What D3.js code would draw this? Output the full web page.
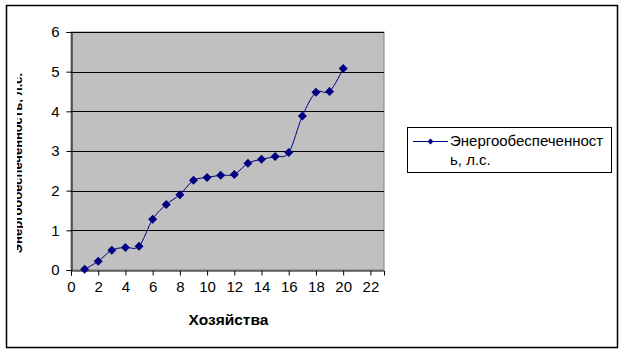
<!DOCTYPE html>
<html>
<head>
<meta charset="utf-8">
<script src="https://cdn.jsdelivr.net/npm/d3@7"></script>
<style>
  body { margin: 0; background: #fff; }
  text { font-family: "Liberation Sans", Arial, sans-serif; }
</style>
</head>
<body>
<div id="chart"></div>
<script>
// data
var farms = [1, 2, 3, 4, 5, 6, 7, 8, 9, 10, 11, 12, 13, 14, 15, 16, 17, 18, 19, 20];
var power = [0.02, 0.22, 0.5, 0.57, 0.6, 1.28, 1.65, 1.9, 2.26, 2.33, 2.39, 2.41, 2.69, 2.79, 2.86, 2.96, 3.88, 4.48, 4.5, 5.08];
var xTicks = [0, 2, 4, 6, 8, 10, 12, 14, 16, 18, 20, 22];
var yTicks = [0, 1, 2, 3, 4, 5, 6];
var seriesName = ["Энергообеспеченност", "ь, л.с."];
var xTitle = "Хозяйства";
var yTitle = "Энергообеспеченность, л.с.";

var width = 626, height = 355;
var plot = { left: 71, right: 384, top: 32, bottom: 270 };

var svg = d3.select("#chart").append("svg")
  .attr("width", width)
  .attr("height", height);

// outer frame
svg.append("rect")
  .attr("x", 6.5).attr("y", 5.5)
  .attr("width", 611).attr("height", 342)
  .attr("fill", "none")
  .attr("stroke", "#000")
  .attr("stroke-width", 1.5);

var x = d3.scaleLinear().domain([0, 23]).range([plot.left, plot.right]);
var y = d3.scaleLinear().domain([0, 6]).range([plot.bottom, plot.top]);

// plot area
svg.append("rect")
  .attr("x", plot.left).attr("y", plot.top)
  .attr("width", plot.right - plot.left).attr("height", plot.bottom - plot.top)
  .attr("fill", "#c0c0c0")
  .attr("stroke", "#808080");

// gridlines
svg.append("g")
  .selectAll("line")
  .data(yTicks.filter(d => d > 0))
  .enter().append("line")
  .attr("x1", plot.left).attr("x2", plot.right)
  .attr("y1", d => Math.round(y(d)) + 0.5)
  .attr("y2", d => Math.round(y(d)) + 0.5)
  .attr("stroke", "#000");

// axes
var yAxis = svg.append("g")
  .attr("transform", "translate(" + (plot.left + 0.5) + ",0)")
  .call(d3.axisLeft(y).tickValues(yTicks).tickSize(5).tickPadding(7).tickFormat(d3.format("d")));

var xAxis = svg.append("g")
  .attr("transform", "translate(0," + (plot.bottom + 0.5) + ")")
  .call(d3.axisBottom(x).tickValues(xTicks).tickSize(5).tickPadding(6).tickFormat(d3.format("d")));

[xAxis, yAxis].forEach(function (g) {
  g.select(".domain").attr("stroke", "#000");
  g.selectAll(".tick line").attr("stroke", "#000");
  g.selectAll(".tick text")
    .attr("fill", "#000")
    .style("font-size", "15px")
    .style("font-family", "'Liberation Sans', Arial, sans-serif");
});

// series
var pts = farms.map((f, i) => [f, power[i]]);

svg.append("path")
  .datum(pts)
  .attr("fill", "none")
  .attr("stroke", "#000080")
  .attr("stroke-width", 1)
  .attr("d", d3.line()
    .x(d => x(d[0]))
    .y(d => y(d[1]))
    .curve(d3.curveCardinal.tension(0)));

// square diamond, ~8px across
var diamond = "M0,-4.5L4.5,0L0,4.5L-4.5,0Z";

svg.append("g")
  .selectAll("path")
  .data(pts)
  .enter().append("path")
  .attr("transform", d => "translate(" + x(d[0]) + "," + y(d[1]) + ")")
  .attr("d", diamond)
  .attr("fill", "#000080");

// axis titles
svg.append("text")
  .attr("x", (plot.left + plot.right) / 2 + 1)
  .attr("y", 325)
  .attr("text-anchor", "middle")
  .style("font-size", "15.5px")
  .style("font-weight", "bold")
  .text(xTitle);

// y title is mostly cut off in the original
svg.append("clipPath")
  .attr("id", "ytclip")
  .append("rect")
  .attr("x", 17).attr("y", 40)
  .attr("width", 6).attr("height", 230);

svg.append("g")
  .attr("clip-path", "url(#ytclip)")
  .append("text")
  .attr("transform", "translate(22," + 163 + ") rotate(-90)")
  .attr("text-anchor", "middle")
  .style("font-size", "13px")
  .style("font-weight", "bold")
  .text(yTitle);

// legend
var legend = svg.append("g");
legend.append("rect")
  .attr("x", 407.5).attr("y", 127.5)
  .attr("width", 204).attr("height", 45)
  .attr("fill", "#fff")
  .attr("stroke", "#000");

legend.append("line")
  .attr("x1", 413).attr("x2", 448)
  .attr("y1", 141.5).attr("y2", 141.5)
  .attr("stroke", "#000080");

legend.append("path")
  .attr("transform", "translate(430.5,141.5)")
  .attr("d", "M0,-3L3,0L0,3L-3,0Z")
  .attr("fill", "#000080");

legend.selectAll("text.lg")
  .data(seriesName)
  .enter().append("text")
  .attr("class", "lg")
  .attr("x", 450)
  .attr("y", (d, i) => 146 + i * 19)
  .style("font-size", "15px")
  .attr("fill", "#000")
  .text(d => d);
</script>
</body>
</html>
